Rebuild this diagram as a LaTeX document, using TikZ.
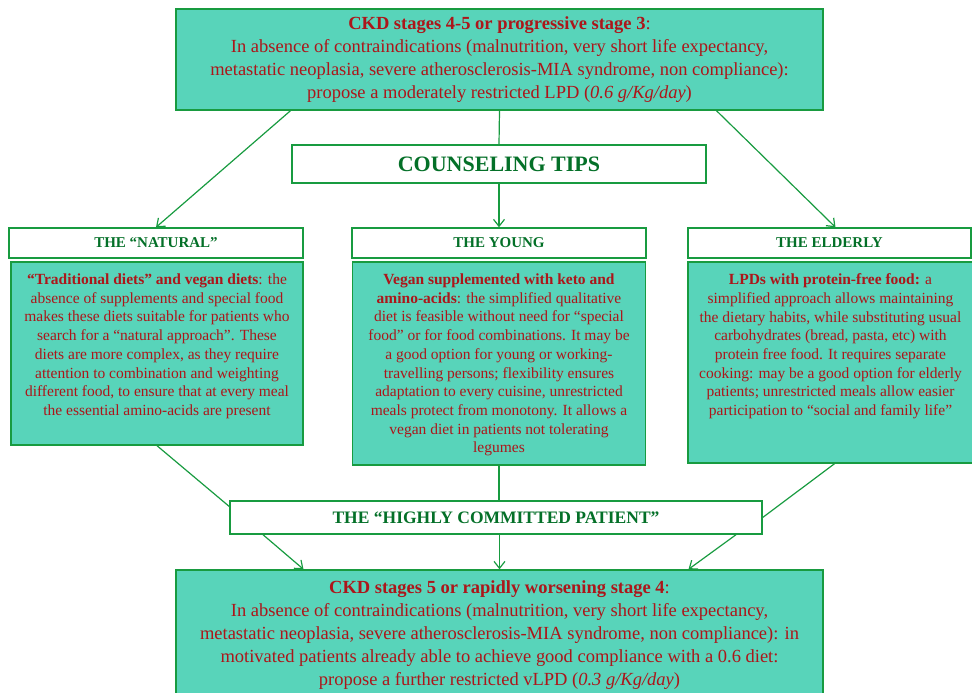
\documentclass[tikz,border=0pt]{standalone}
\usepackage{fontspec}
\setmainfont{Liberation Serif}
\usetikzlibrary{arrows, arrows.meta}
\definecolor{boxteal}{RGB}{88,212,186}
\definecolor{boxgreen}{RGB}{24,155,64}
\definecolor{txtred}{RGB}{172,22,26}
\definecolor{txtgreen}{RGB}{4,112,40}

\begin{document}
\begin{tikzpicture}[x=1pt, y=-1pt,
  tealbox/.style={draw=boxgreen, line width=1.4pt, fill=boxteal, inner sep=0pt},
  whitebox/.style={draw=boxgreen, line width=1.4pt, fill=white, inner sep=0pt, text=txtgreen},
  link/.style={draw=boxgreen, line width=1.2pt, >={Straight Barb[length=7pt, width=11pt]}},
  bigtext/.style={align=center, text=txtred, font=\fontsize{18.5}{23}\selectfont},
  smalltext/.style={align=center, text=txtred, font=\fontsize{15.5}{18.7}\selectfont}]

\useasboundingbox (0,0) rectangle (972,693);

% Top
\node[tealbox, bigtext, minimum width=647pt, minimum height=101pt] (ckdtop) at (499.5, 59.5)
  {\textbf{CKD stages 4-5 or progressive stage 3}:\\
   In absence of contraindications (malnutrition, very short life expectancy,\\
   metastatic neoplasia, severe atherosclerosis-MIA syndrome, non compliance):\\
   propose a moderately restricted LPD (\textit{0.6 g/Kg/day})};

\node[whitebox, minimum width=414pt, minimum height=38pt, font=\fontsize{22}{24}\selectfont\bfseries] (tips) at (499, 164) {COUNSELING TIPS};

% Headers
\node[whitebox, minimum width=294pt, minimum height=30pt, font=\fontsize{15}{16}\selectfont\bfseries] (natural) at (156, 243) {THE “NATURAL”};
\node[whitebox, minimum width=294pt, minimum height=30pt, font=\fontsize{15}{16}\selectfont\bfseries] (young) at (499, 243) {THE YOUNG};
\node[whitebox, minimum width=283pt, minimum height=30pt, font=\fontsize{15}{16}\selectfont\bfseries] (elderly) at (829.5, 243) {THE ELDERLY};

% Bodies
\node[tealbox, minimum width=292pt, minimum height=183pt] (natbody) at (157, 353.5) {};
\node[tealbox, minimum width=293pt, minimum height=203pt] (youngbody) at (499, 363.5) {};
\node[tealbox, minimum width=285pt, minimum height=201pt] (eldbody) at (830.5, 362.5) {};

\node[smalltext, anchor=north] (nattext) at ([yshift=-9pt]natbody.north)
  {\textbf{“Traditional diets” and vegan diets}: the\\
   absence of supplements and special food\\
   makes these diets suitable for patients who\\
   search for a “natural approach”. These\\
   diets are more complex, as they require\\
   attention to combination and weighting\\
   different food, to ensure that at every meal\\
   the essential amino-acids are present};

\node[smalltext, anchor=north] (youngtext) at ([yshift=-9pt]youngbody.north)
  {\textbf{Vegan supplemented with keto and}\\
   \textbf{amino-acids}: the simplified qualitative\\
   diet is feasible without need for “special\\
   food” or for food combinations. It may be\\
   a good option for young or working-\\
   travelling persons; flexibility ensures\\
   adaptation to every cuisine, unrestricted\\
   meals protect from monotony. It allows a\\
   vegan diet in patients not tolerating\\
   legumes};

\node[smalltext, anchor=north] (eldtext) at ([yshift=-9pt]eldbody.north)
  {\textbf{LPDs with protein-free food:} a\\
   simplified approach allows maintaining\\
   the dietary habits, while substituting usual\\
   carbohydrates (bread, pasta, etc) with\\
   protein free food. It requires separate\\
   cooking: may be a good option for elderly\\
   patients; unrestricted meals allow easier\\
   participation to “social and family life”};

% Committed
\node[whitebox, minimum width=532pt, minimum height=33pt, font=\fontsize{17.5}{19}\selectfont\bfseries] (hcp) at (496, 517.5) {THE “HIGHLY COMMITTED PATIENT”};

% Bottom
\node[tealbox, bigtext, minimum width=647pt, minimum height=130pt] (ckdbot) at (499.5, 635)
  {\textbf{CKD stages 5 or rapidly worsening stage 4}:\\
   In absence of contraindications (malnutrition, very short life expectancy,\\
   metastatic neoplasia, severe atherosclerosis-MIA syndrome, non compliance): in\\
   motivated patients already able to achieve good compliance with a 0.6 diet:\\
   propose a further restricted vLPD (\textit{0.3 g/Kg/day})};

% Links
\draw[link, ->] ([xshift=-209pt]ckdtop.south) -- (natural.north);
\draw[link] (ckdtop.south) -- (tips.north);
\draw[link, ->] (tips.south) -- (young.north);
\draw[link, ->] ([xshift=217pt]ckdtop.south) -- ([xshift=6pt]elderly.north);

\draw[link] (natbody.south) -- ([yshift=11pt]hcp.west);
\draw[link] (youngbody.south) -- (youngbody.south |- hcp.north);
\draw[link] ([xshift=4pt]eldbody.south) -- (hcp.east);

\draw[link, ->] ([xshift=-233pt]hcp.south) -- ([xshift=-196pt]ckdbot.north);
\draw[link, ->] (ckdbot.north |- hcp.south) -- (ckdbot.north);
\draw[link, ->] ([xshift=240pt]hcp.south) -- ([xshift=189pt]ckdbot.north);

\end{tikzpicture}
\end{document}
